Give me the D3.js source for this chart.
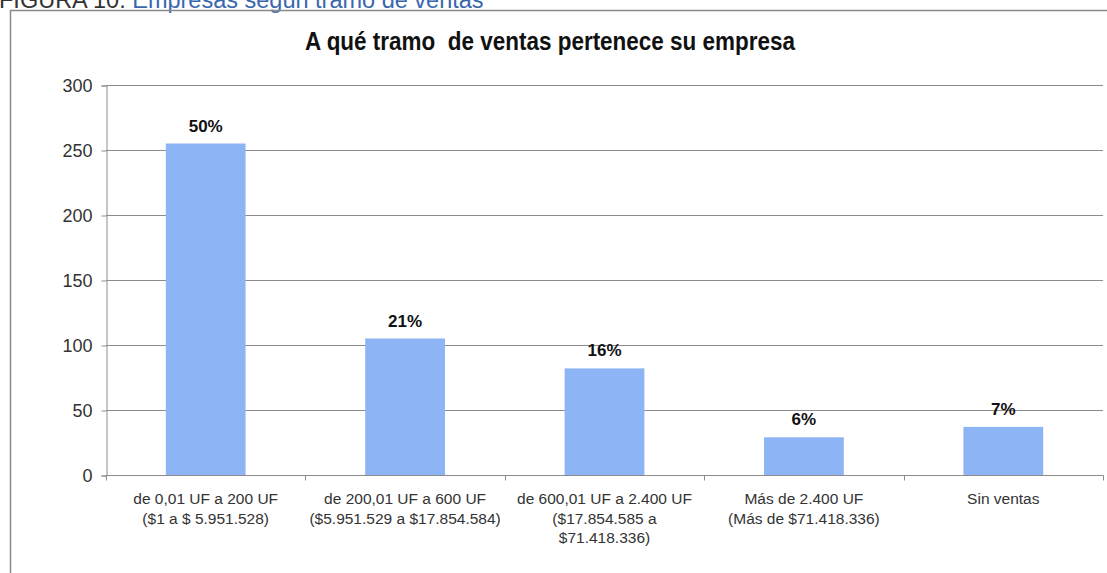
<!DOCTYPE html>
<html><head><meta charset="utf-8">
<script src="https://cdn.jsdelivr.net/npm/d3@7"></script>
<style>body{margin:0;background:#fff;} svg{display:block;} text{white-space:pre;}</style>
</head><body>
<svg id="c" width="1107" height="573"></svg>
<script>
const categories = [
  ["de 0,01 UF a 200 UF", "($1 a $ 5.951.528)"],
  ["de 200,01 UF a 600 UF", "($5.951.529 a $17.854.584)"],
  ["de 600,01 UF a 2.400 UF", "($17.854.585 a", "$71.418.336)"],
  ["Más de 2.400 UF", "(Más de $71.418.336)"],
  ["Sin ventas"]
];
const values = [255, 105, 82, 29, 37];
const percentLabels = ["50%", "21%", "16%", "6%", "7%"];
const yTicks = [0, 50, 100, 150, 200, 250, 300];
const titleText = "A qué tramo  de ventas pertenece su empresa";
const captionPrefix = "FIGURA 10: ";
const captionText = "Empresas según tramo de ventas";

(function () {
const svg = d3.select("#c");
const font = "'Liberation Sans', Arial, sans-serif";
const pLeft = 106, pRight = 1103, pTop = 85, pBottom = 475;

// caption (cut off at top, as in the source page)
const cap = svg.append("text").attr("x", -1).attr("y", 7.5)
  .attr("font-family", font).attr("font-size", 23.5);
cap.append("tspan").attr("fill", "#333").text(captionPrefix);
cap.append("tspan").attr("fill", "#3a68ad").text(captionText);

// frame
svg.append("path").attr("d", `M10.5,580 V10.5 H1115`)
  .attr("fill", "none").attr("stroke", "#8a8a8a").attr("stroke-width", 1.5);

const x = d3.scaleBand().domain(d3.range(categories.length)).range([pLeft, pRight]).paddingInner(0.6).paddingOuter(0.3);
const y = d3.scaleLinear().domain([0, 300]).range([pBottom, pTop]);

// gridlines
svg.append("g").selectAll("line").data(yTicks.filter(d => d > 0)).join("line")
  .attr("x1", pLeft).attr("x2", pRight)
  .attr("y1", d => Math.round(y(d)) + 0.5).attr("y2", d => Math.round(y(d)) + 0.5)
  .attr("stroke", "#8c8c8c").attr("stroke-width", 1);

// y axis
const yAxis = svg.append("g").attr("transform", `translate(${pLeft + 0.5},0.5)`)
  .call(d3.axisLeft(y).tickValues(yTicks).tickSize(5).tickPadding(9));
yAxis.select(".domain").attr("stroke", "#8c8c8c");
yAxis.selectAll(".tick line").attr("stroke", "#8c8c8c");
yAxis.selectAll("text").attr("font-family", font).attr("font-size", 18).attr("fill", "#333");

// bars
svg.append("g").selectAll("rect").data(values).join("rect")
  .attr("x", (d, i) => x(i)).attr("width", x.bandwidth())
  .attr("y", d => y(d)).attr("height", d => y(0) - y(d))
  .attr("fill", "#8db4f4");

// x axis
const xb = d3.scaleLinear().domain([0, categories.length]).range([pLeft, pRight]);
const xAxisG = svg.append("g").attr("transform", `translate(0.5,${pBottom + 0.5})`);
xAxisG.append("line").attr("x1", pLeft).attr("x2", pRight).attr("stroke", "#8c8c8c");
xAxisG.selectAll(".tk").data(d3.range(categories.length + 1)).join("line").attr("class", "tk")
  .attr("x1", d => Math.round(xb(d))).attr("x2", d => Math.round(xb(d)))
  .attr("y1", 0).attr("y2", 5).attr("stroke", "#8c8c8c");

// category labels
const catG = svg.append("g");
categories.forEach((lines, i) => {
  const t = catG.append("text").attr("text-anchor", "middle")
    .attr("font-family", font).attr("font-size", 15.5).attr("fill", "#333");
  lines.forEach((ln, j) => {
    t.append("tspan").attr("x", x(i) + x.bandwidth() / 2).attr("y", 504 + j * 19.5).text(ln);
  });
});

// value labels
svg.append("g").selectAll("text").data(values).join("text")
  .attr("x", (d, i) => x(i) + x.bandwidth() / 2).attr("y", d => y(d) - 12)
  .attr("text-anchor", "middle").attr("font-family", font).attr("font-weight", "bold")
  .attr("font-size", 17).attr("fill", "#111").text((d, i) => percentLabels[i]);

// title
svg.append("text").attr("x", 550).attr("y", 50).attr("text-anchor", "middle")
  .attr("font-family", font).attr("font-weight", "bold").attr("font-size", 25)
  .attr("textLength", 490).attr("lengthAdjust", "spacingAndGlyphs")
  .attr("fill", "#111").text(titleText);
})();
</script>
</body></html>
